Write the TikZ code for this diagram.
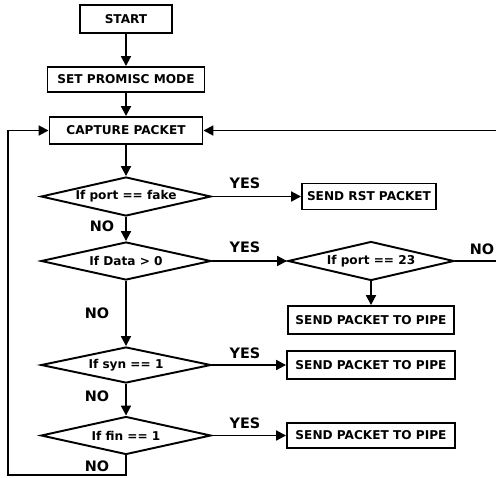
\documentclass[tikz,border=0pt]{standalone}
\usepackage{fontspec}
\setmainfont{DejaVu Sans}
\usetikzlibrary{arrows.meta, positioning, shapes}
\tikzset{
  BOX/.style={% Style for process boxes
      rectangle, line width=1.1pt,
      align=center,
      font=\bfseries\fontsize{6.9}{8}\selectfont,
      inner sep=0pt,
      draw=black,
  },
  DEC/.style={% Style for decision diamonds
      diamond, aspect=4.5,
      line width=1.1pt,
      font=\bfseries\fontsize{6.9}{8}\selectfont,
      inner sep=0pt,
      minimum width=3.4cm,
      draw=black,
  },
  ANS/.style={% Style for YES / NO labels
      font=\bfseries\fontsize{8.2}{9}\selectfont,
      inner sep=0pt,
  },
  flow/.style={-{Triangle[length=5.6pt,width=5.6pt]},line width=1.1pt},
}
\begin{document}
\begin{tikzpicture}[x=0.02cm, y=-0.02cm]
    \useasboundingbox (0,0) rectangle (496,477);
    % main column
    \node[BOX, minimum width=1.84cm, minimum height=0.56cm] (start) at (126,19) {START};
    \node[BOX, minimum width=3.14cm, minimum height=0.5cm] (promisc) at (126,79.5) {SET PROMISC MODE};
    \node[BOX, minimum width=3.06cm, minimum height=0.54cm] (capture) at (126,130.5) {CAPTURE PACKET};
    \node[DEC, minimum height=0.78cm] (portfake) at (126,196.5) {If port == fake};
    \node[DEC, minimum height=0.76cm] (data) at (126,261) {If Data > 0};
    \node[DEC, minimum height=0.72cm] (syn) at (126,365) {If syn == 1};
    \node[DEC, minimum height=0.76cm] (fin) at (126,435.5) {If fin == 1};
    % right column
    \node[BOX, minimum width=2.68cm, minimum height=0.52cm] (rst) at (369,196.5) {SEND RST PACKET};
    \node[DEC, minimum width=3.32cm, minimum height=0.78cm] (port23) at (371,261) {If port == 23};
    \node[BOX, minimum width=3.32cm, minimum height=0.56cm] (pipeA) at (371,320) {SEND PACKET TO PIPE};
    \node[BOX, minimum width=3.36cm, minimum height=0.56cm] (pipeB) at (371,365) {SEND PACKET TO PIPE};
    \node[BOX, minimum width=3.36cm, minimum height=0.5cm] (pipeC) at (371,435.5) {SEND PACKET TO PIPE};
    % labels
    \node[ANS] (yesA) at (245,183) {YES};
    \node[ANS] (noA) at (102,226) {NO};
    \node[ANS] (yesB) at (245,247) {YES};
    \node[ANS] (noB) at (97,313) {NO};
    \node[ANS] (noC) at (482,249) {NO};
    \node[ANS] (yesC) at (245,353) {YES};
    \node[ANS] (noD) at (97,396) {NO};
    \node[ANS] (yesD) at (245,423) {YES};
    \node[ANS] (noE) at (97,466) {NO};
    % loop corners
    \coordinate (loopL) at (8,475);
    \coordinate (loopR) at (510,130.5);
    \draw[flow] (start) -- (promisc);
    \draw[flow] (promisc) -- (capture);
    \draw[flow] (capture) -- (portfake);
    \draw[flow] (portfake) -- (rst);
    \draw[flow] (portfake) -- (data);
    \draw[flow] (data) -- (port23);
    \draw[flow] (data) -- (syn);
    \draw[flow] (port23) -- (pipeA);
    \draw[flow] (syn) -- (pipeB);
    \draw[flow] (syn) -- (fin);
    \draw[flow] (fin) -- (pipeC);
    \draw[flow] (port23.east) -| (loopR) -- (capture.east);
    \draw[flow] (fin.south) |- (loopL) |- (capture.west);
\end{tikzpicture}
\end{document}
